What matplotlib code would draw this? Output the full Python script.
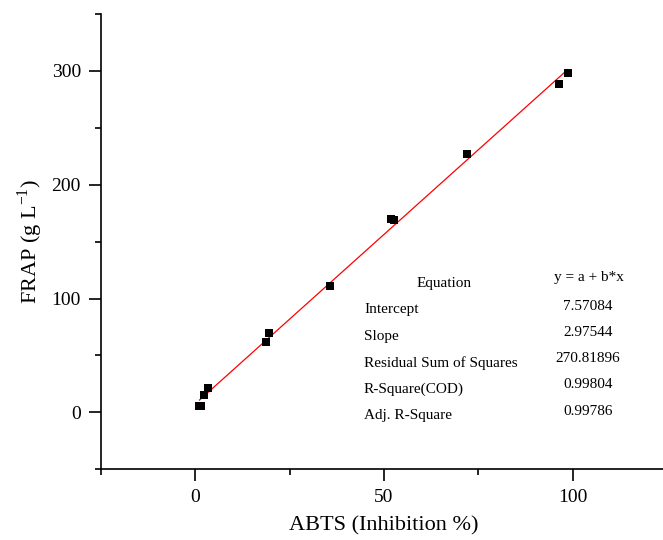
import numpy as np
import matplotlib.pyplot as plt
from matplotlib.ticker import MultipleLocator

plt.rcParams['font.family'] = ['Liberation Serif', 'DejaVu Serif']
plt.rcParams['mathtext.fontset'] = 'custom'
plt.rcParams['mathtext.rm'] = 'Liberation Serif'

# data
abts = [1.1, 1.5, 2.2, 3.3, 18.8, 19.5, 35.8, 51.8, 52.6, 72.1, 96.5, 98.7]
frap = [6.0, 5.5, 15.2, 21.0, 61.8, 69.7, 111.0, 170.1, 169.0, 227.2,
        288.5, 298.4]

# linear fit results shown in the table
intercept = 7.57084
slope = 2.97544
fit_rows = ['Intercept', 'Slope', 'Residual Sum of Squares',
            'R-Square(COD)', 'Adj. R-Square']
fit_vals = ['7.57084', '2.97544', '270.81896', '0.99804', '0.99786']

fig = plt.figure(figsize=(6.63, 5.4), dpi=100)
ax = fig.add_axes([101 / 663, 1 - 469.3 / 540, 566 / 663, 455.3 / 540])

x_fit = np.array([min(abts), max(abts)])
ax.plot(x_fit, intercept + slope * x_fit, c='red', lw=0.9, zorder=2)
ax.scatter(abts, frap, c='k', marker='s', s=26, linewidths=0, zorder=3)

ax.set_xlim([-25, 125])
ax.set_ylim([-50, 350])
ax.xaxis.set_major_locator(MultipleLocator(50))
ax.xaxis.set_minor_locator(MultipleLocator(25))
ax.yaxis.set_major_locator(MultipleLocator(100))
ax.yaxis.set_minor_locator(MultipleLocator(50))
ax.set_xticks([0, 50, 100])
ax.set_yticks([0, 100, 200, 300])

for side in ['top', 'right']:
    ax.spines[side].set_visible(False)
for side in ['left', 'bottom']:
    ax.spines[side].set_linewidth(1.2)
ax.tick_params(which='major', direction='out', length=8.5, width=1.2,
               labelsize=14, pad=6)
ax.tick_params(which='minor', direction='out', length=4.5, width=1.2)

ax.set_xlabel('ABTS (Inhibition %)', fontsize=16, labelpad=7)
ax.set_ylabel('FRAP (g L$^{\\mathregular{-1}}$)', fontsize=16, labelpad=5)

# fit table
tr = ax.transAxes
def px(x, y):
    return ((x - 101) / 566, (469.3 - y) / 455.3)

ax.text(*px(444, 283), 'Equation', transform=tr, fontsize=11,
        ha='center', va='center')
ax.text(*px(589, 278), 'y = a + b*x', transform=tr, fontsize=11,
        ha='center', va='center')
for i, (name, val) in enumerate(zip(fit_rows, fit_vals)):
    ax.text(*px(364, 310 + 26.5 * i), name, transform=tr, fontsize=11,
            ha='left', va='center')
    ax.text(*px(588, 306 + 26.3 * i), val, transform=tr, fontsize=11,
            ha='center', va='center')

plt.savefig('out.png', dpi=100)
